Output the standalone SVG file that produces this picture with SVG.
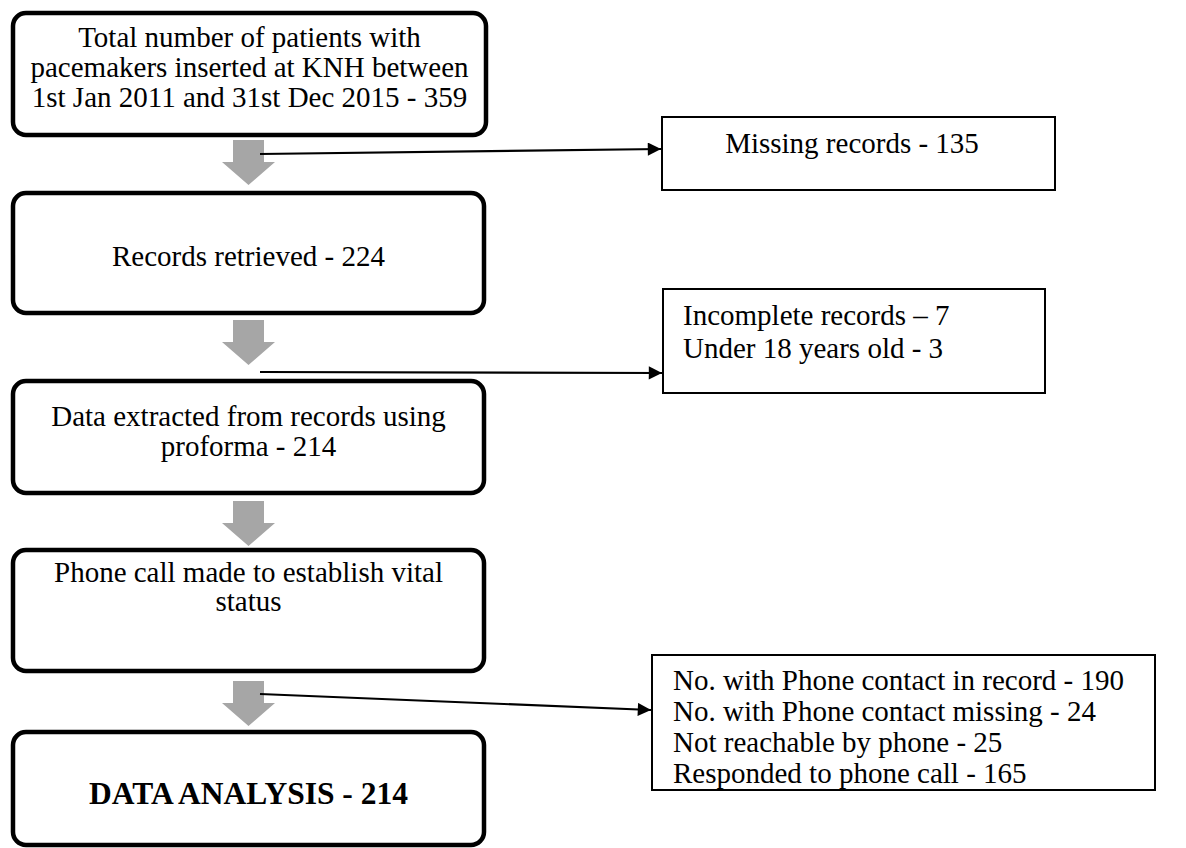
<svg xmlns="http://www.w3.org/2000/svg" width="1186" height="848" viewBox="0 0 1186 848">
<style>
.main{fill:#fff;stroke:#000;stroke-width:4.5}
.side{fill:#fff;stroke:#000;stroke-width:2}
.t{font-family:"Liberation Serif","Times New Roman",serif;font-size:29px;fill:#000}
.c{text-anchor:middle}
.b{font-weight:bold;font-size:31.5px}
.blk{fill:#a6a6a6}
.con{stroke:#000;stroke-width:2.2;fill:none;marker-end:url(#ah)}
</style>
<defs>
<marker id="ah" viewBox="0 0 10 10" refX="10" refY="5" markerWidth="7" markerHeight="6" markerUnits="strokeWidth" orient="auto">
<path d="M0,0 L10,5 L0,10 z" fill="#000"/>
</marker>
</defs>
<g id="n1">
<rect class="main" x="13" y="13" width="473" height="122" rx="13"/>
<text class="t c" x="249.5" y="47">Total number of patients with</text>
<text class="t c" x="249.5" y="77">pacemakers inserted at KNH between</text>
<text class="t c" x="249.5" y="107">1st Jan 2011 and 31st Dec 2015 - 359</text>
</g>
<g id="n2">
<rect class="main" x="13" y="193" width="471" height="120" rx="13"/>
<text class="t c" x="248.5" y="266">Records retrieved - 224</text>
</g>
<g id="n3">
<rect class="main" x="13" y="381" width="471" height="112" rx="13"/>
<text class="t c" x="248.5" y="426">Data extracted from records  using</text>
<text class="t c" x="248.5" y="456">proforma - 214</text>
</g>
<g id="n4">
<rect class="main" x="13" y="550" width="471" height="121" rx="13"/>
<text class="t c" x="248.5" y="582">Phone call made to establish vital</text>
<text class="t c" x="248.5" y="611">status</text>
</g>
<g id="n5">
<rect class="main" x="13" y="732" width="471" height="113" rx="13"/>
<text class="t c b" x="248.5" y="804">DATA ANALYSIS - 214</text>
</g>
<g id="s1">
<rect class="side" x="662" y="117" width="393" height="73"/>
<text class="t c" x="852" y="153">Missing records - 135</text>
</g>
<g id="s2">
<rect class="side" x="663" y="289" width="382" height="104"/>
<text class="t" x="683" y="325">Incomplete records – 7</text>
<text class="t" x="683" y="358">Under 18 years old - 3</text>
</g>
<g id="s3">
<rect class="side" x="652" y="655" width="503" height="135"/>
<text class="t" x="673" y="690">No. with Phone contact in record - 190</text>
<text class="t" x="673" y="721">No. with Phone contact missing - 24</text>
<text class="t" x="673" y="752">Not reachable by phone - 25</text>
<text class="t" x="673" y="783">Responded to phone call - 165</text>
</g>
<g id="arrows">
<polygon class="blk" points="233,140 264,140 264,162 275,162 248.5,185 222,162 233,162"/>
<polygon class="blk" points="233,320 264,320 264,342 275,342 248.5,365 222,342 233,342"/>
<polygon class="blk" points="233,501 264,501 264,523 275,523 248.5,546 222,523 233,523"/>
<polygon class="blk" points="233,681 264,681 264,703 275,703 248.5,726 222,703 233,703"/>
</g>
<g id="connectors">
<line class="con" x1="260" y1="154" x2="661" y2="149"/>
<line class="con" x1="260" y1="372" x2="662" y2="373"/>
<line class="con" x1="260" y1="694" x2="651" y2="710"/>
</g>
</svg>
